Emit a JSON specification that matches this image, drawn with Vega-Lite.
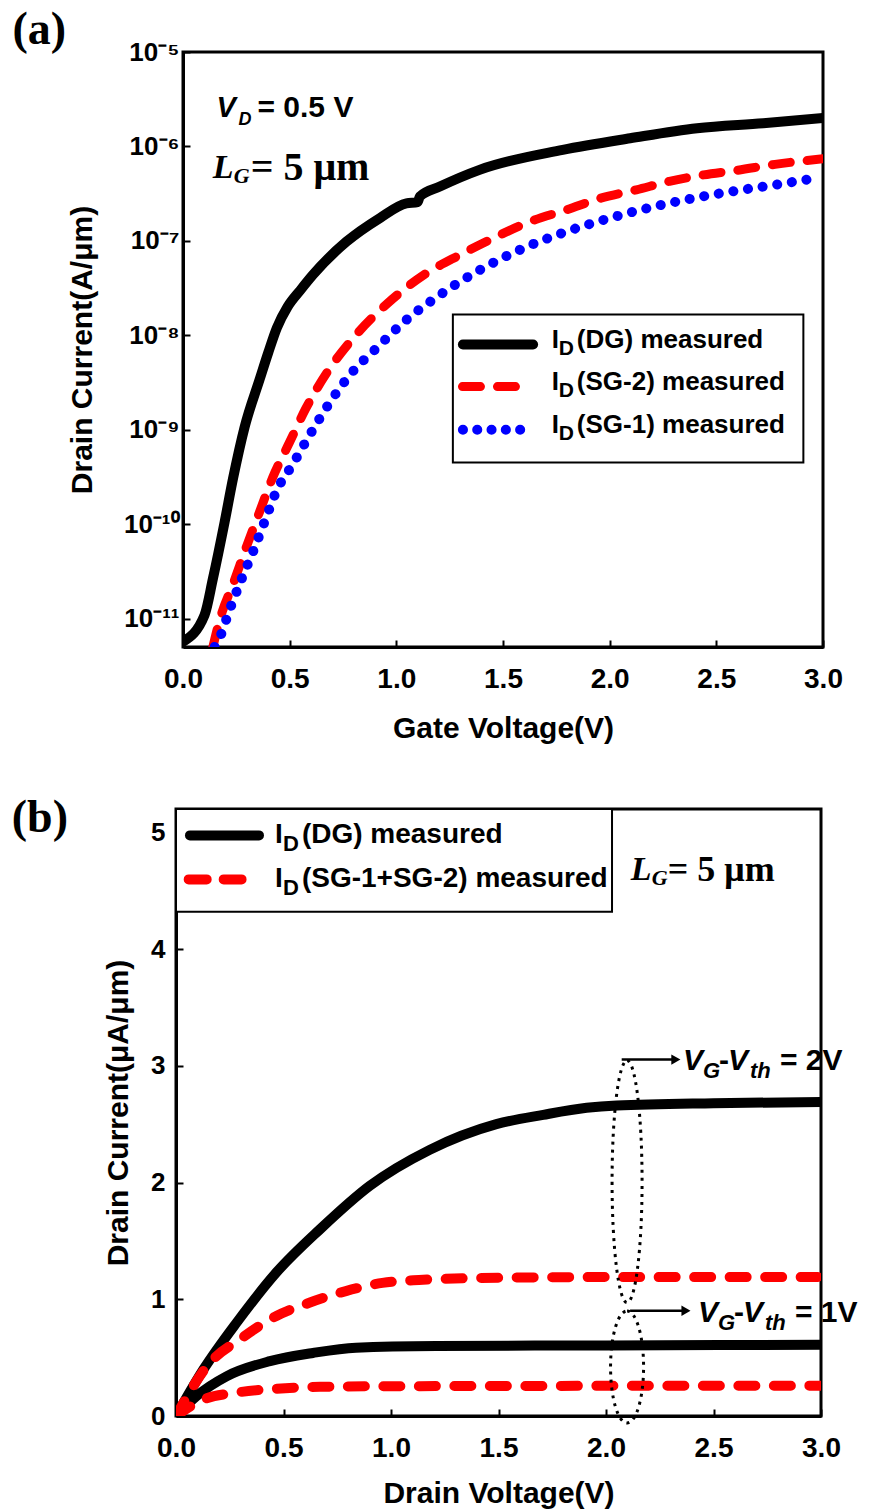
{
  "$schema": "https://vega.github.io/schema/vega-lite/v6.json",
  "background": "white",
  "padding": {"left": 3, "top": 5, "right": 0, "bottom": 0},
  "spacing": 48,
  "config": {
    "view": {"stroke": "black", "strokeWidth": 3},
    "axis": {"grid": false, "domainColor": "black", "domainWidth": 3, "tickColor": "black", "tickWidth": 2, "tickSize": -7,
      "labelFont": "Liberation Sans", "labelFontWeight": "bold", "labelColor": "black", "labelOverlap": false, "labelFlush": false,
      "titleFont": "Liberation Sans", "titleFontWeight": "bold", "titleColor": "black", "titleFontSize": 30},
    "axisX": {"labelFontSize": 28},
    "axisY": {"labelFontSize": 26}
  },
  "datasets": {
    "curvesA": [
      {"s": "DG", "x": 0, "y": 5.7e-12}, {"s": "DG", "x": 0.101, "y": 1.09e-11}, {"s": "DG", "x": 0.14, "y": 2.63e-11},
      {"s": "DG", "x": 0.195, "y": 1.05e-10}, {"s": "DG", "x": 0.234, "y": 3.0e-10}, {"s": "DG", "x": 0.289, "y": 1.07e-9},
      {"s": "DG", "x": 0.359, "y": 3.4e-9}, {"s": "DG", "x": 0.4, "y": 6.6e-9}, {"s": "DG", "x": 0.44, "y": 1.2e-8},
      {"s": "DG", "x": 0.49, "y": 2.0e-8}, {"s": "DG", "x": 0.55, "y": 3.0e-8}, {"s": "DG", "x": 0.609, "y": 4.37e-8},
      {"s": "DG", "x": 0.766, "y": 9.8e-8},
      {"s": "DG", "x": 0.922, "y": 1.74e-7}, {"s": "DG", "x": 1.047, "y": 2.5e-7}, {"s": "DG", "x": 1.1, "y": 2.57e-7},
      {"s": "DG", "x": 1.11, "y": 2.95e-7}, {"s": "DG", "x": 1.204, "y": 3.76e-7}, {"s": "DG", "x": 1.39, "y": 5.65e-7},
      {"s": "DG", "x": 1.78, "y": 9.2e-7}, {"s": "DG", "x": 2.096, "y": 1.22e-6}, {"s": "DG", "x": 2.41, "y": 1.56e-6},
      {"s": "DG", "x": 2.72, "y": 1.76e-6}, {"s": "DG", "x": 3.0, "y": 2.0e-6},
      {"s": "SG2", "x": 0.14, "y": 5e-12}, {"s": "SG2", "x": 0.171, "y": 9.5e-12}, {"s": "SG2", "x": 0.24, "y": 2.5e-11},
      {"s": "SG2", "x": 0.294, "y": 5.5e-11}, {"s": "SG2", "x": 0.359, "y": 1.35e-10}, {"s": "SG2", "x": 0.42, "y": 3.1e-10},
      {"s": "SG2", "x": 0.5, "y": 7.4e-10}, {"s": "SG2", "x": 0.577, "y": 1.7e-9}, {"s": "SG2", "x": 0.68, "y": 4.2e-9},
      {"s": "SG2", "x": 0.797, "y": 9.3e-9}, {"s": "SG2", "x": 0.96, "y": 2.19e-8}, {"s": "SG2", "x": 1.13, "y": 4.37e-8},
      {"s": "SG2", "x": 1.298, "y": 7.1e-8}, {"s": "SG2", "x": 1.47, "y": 1.11e-7}, {"s": "SG2", "x": 1.627, "y": 1.6e-7},
      {"s": "SG2", "x": 1.8, "y": 2.14e-7}, {"s": "SG2", "x": 1.955, "y": 2.82e-7}, {"s": "SG2", "x": 2.125, "y": 3.47e-7},
      {"s": "SG2", "x": 2.28, "y": 4.27e-7}, {"s": "SG2", "x": 2.44, "y": 5.0e-7}, {"s": "SG2", "x": 2.6, "y": 5.6e-7},
      {"s": "SG2", "x": 2.775, "y": 6.46e-7}, {"s": "SG2", "x": 3.0, "y": 7.4e-7},
      {"s": "SG1", "x": 0.148, "y": 5e-12}, {"s": "SG1", "x": 0.171, "y": 6.2e-12}, {"s": "SG1", "x": 0.218, "y": 1.23e-11},
      {"s": "SG1", "x": 0.273, "y": 2.57e-11}, {"s": "SG1", "x": 0.328, "y": 5.1e-11}, {"s": "SG1", "x": 0.383, "y": 1.07e-10},
      {"s": "SG1", "x": 0.438, "y": 2.24e-10}, {"s": "SG1", "x": 0.516, "y": 4.37e-10}, {"s": "SG1", "x": 0.594, "y": 8.8e-10},
      {"s": "SG1", "x": 0.68, "y": 1.82e-9}, {"s": "SG1", "x": 0.782, "y": 3.8e-9}, {"s": "SG1", "x": 0.915, "y": 7.6e-9},
      {"s": "SG1", "x": 1.046, "y": 1.45e-8}, {"s": "SG1", "x": 1.18, "y": 2.45e-8}, {"s": "SG1", "x": 1.39, "y": 4.9e-8},
      {"s": "SG1", "x": 1.593, "y": 8.3e-8}, {"s": "SG1", "x": 1.8, "y": 1.26e-7}, {"s": "SG1", "x": 2.0, "y": 1.74e-7},
      {"s": "SG1", "x": 2.203, "y": 2.29e-7}, {"s": "SG1", "x": 2.41, "y": 2.88e-7}, {"s": "SG1", "x": 2.62, "y": 3.47e-7},
      {"s": "SG1", "x": 2.82, "y": 4.07e-7}, {"s": "SG1", "x": 2.955, "y": 4.57e-7}
    ],
    "curvesB": [
      {"s": "DG2", "x": 0, "y": 0}, {"s": "DG2", "x": 0.128, "y": 0.4}, {"s": "DG2", "x": 0.282, "y": 0.8},
      {"s": "DG2", "x": 0.467, "y": 1.23}, {"s": "DG2", "x": 0.67, "y": 1.6}, {"s": "DG2", "x": 0.9, "y": 1.97},
      {"s": "DG2", "x": 1.18, "y": 2.28}, {"s": "DG2", "x": 1.49, "y": 2.5}, {"s": "DG2", "x": 1.708, "y": 2.58},
      {"s": "DG2", "x": 1.91, "y": 2.64}, {"s": "DG2", "x": 2.05, "y": 2.66}, {"s": "DG2", "x": 2.5, "y": 2.68},
      {"s": "DG2", "x": 3.0, "y": 2.69},
      {"s": "SG2", "x": 0, "y": 0}, {"s": "SG2", "x": 0.158, "y": 0.457}, {"s": "SG2", "x": 0.297, "y": 0.656},
      {"s": "SG2", "x": 0.467, "y": 0.857}, {"s": "SG2", "x": 0.62, "y": 0.97}, {"s": "SG2", "x": 0.79, "y": 1.07},
      {"s": "SG2", "x": 0.96, "y": 1.14}, {"s": "SG2", "x": 1.13, "y": 1.165}, {"s": "SG2", "x": 1.52, "y": 1.185},
      {"s": "SG2", "x": 2.0, "y": 1.19}, {"s": "SG2", "x": 3.0, "y": 1.19},
      {"s": "DG1", "x": 0, "y": 0}, {"s": "DG1", "x": 0.095, "y": 0.17}, {"s": "DG1", "x": 0.235, "y": 0.34},
      {"s": "DG1", "x": 0.437, "y": 0.47}, {"s": "DG1", "x": 0.637, "y": 0.54}, {"s": "DG1", "x": 0.837, "y": 0.585},
      {"s": "DG1", "x": 1.21, "y": 0.6}, {"s": "DG1", "x": 2.0, "y": 0.605}, {"s": "DG1", "x": 3.0, "y": 0.61},
      {"s": "SG1", "x": 0, "y": 0}, {"s": "SG1", "x": 0.127, "y": 0.14}, {"s": "SG1", "x": 0.28, "y": 0.2},
      {"s": "SG1", "x": 0.467, "y": 0.234}, {"s": "SG1", "x": 0.67, "y": 0.25}, {"s": "SG1", "x": 1.0, "y": 0.255},
      {"s": "SG1", "x": 3.0, "y": 0.26}
    ],
    "legA": [
      {"x": 1.729, "y": 7.98e-9, "m": "I", "sub": "D", "rest": "(DG) measured"},
      {"x": 1.729, "y": 2.86e-9, "m": "I", "sub": "D", "rest": "(SG-2) measured"},
      {"x": 1.729, "y": 1.0e-9, "m": "I", "sub": "D", "rest": "(SG-1) measured"}
    ],
    "legB": [
      {"x": 0.46, "y": 4.974, "m": "I", "sub": "D", "rest": "(DG) measured"},
      {"x": 0.46, "y": 4.597, "m": "I", "sub": "D", "rest": "(SG-1+SG-2) measured"}
    ],
    "vgB": [
      {"x": 2.358, "y": 3.045, "v": "V", "g": "G", "d": "-", "th": "th", "rest": "= 2V"},
      {"x": 2.428, "y": 0.88, "v": "V", "g": "G", "d": "-", "th": "th", "rest": "= 1V"}
    ]
  },
  "vconcat": [
    {"hconcat": [
    {"width": 1, "height": 1, "data": {"values": [{"k": 1}]}, "mark": {"type": "point", "opacity": 0}, "view": {"stroke": null}},
    {
      "width": 640,
      "height": 595,
      "encoding": {
        "x": {"field": "x", "type": "quantitative",
          "scale": {"domain": [0, 3], "nice": false, "zero": false},
          "axis": {"title": "Gate Voltage(V)", "values": [0, 0.5, 1, 1.5, 2, 2.5, 3], "format": ".1f", "labelPadding": 25, "titleY": 81, "titleBaseline": "middle"}},
        "y": {"field": "y", "type": "quantitative",
          "scale": {"type": "log", "domain": [5e-12, 1e-5], "nice": false},
          "axis": {"title": "Drain Current(A/μm)", "values": [1e-11, 1e-10, 1e-9, 1e-8, 1e-7, 1e-6, 1e-5], "labelPadding": 11,
            "labelExpr": "'10' + (datum.value < 3e-11 ? '⁻¹¹' : datum.value < 3e-10 ? '⁻¹⁰' : datum.value < 3e-9 ? '⁻⁹' : datum.value < 3e-8 ? '⁻⁸' : datum.value < 3e-7 ? '⁻⁷' : datum.value < 3e-6 ? '⁻⁶' : '⁻⁵')",
            "titleX": -101, "titleBaseline": "middle"}}
      },
      "layer": [
        {"data": {"name": "curvesA"}, "transform": [{"filter": "datum.s === 'DG'"}],
          "mark": {"type": "line", "color": "black", "strokeWidth": 10, "strokeCap": "round", "strokeJoin": "round", "interpolate": "monotone", "clip": true}},
        {"data": {"name": "curvesA"}, "transform": [{"filter": "datum.s === 'SG2'"}],
          "mark": {"type": "line", "color": "#ff0000", "strokeWidth": 9, "strokeDash": [18, 17], "strokeCap": "round", "interpolate": "monotone", "clip": true}},
        {"data": {"name": "curvesA"}, "transform": [{"filter": "datum.s === 'SG1'"}],
          "mark": {"type": "line", "color": "#0000ff", "strokeWidth": 10, "strokeDash": [0.1, 14.7], "strokeCap": "round", "interpolate": "monotone", "clip": true}},
        {"data": {"values": [{"x": 1.265, "x2": 2.908, "y": 1.656e-8, "y2": 4.49e-10}]},
          "mark": {"type": "rect", "fill": "white", "stroke": "black", "strokeWidth": 2},
          "encoding": {"x2": {"field": "x2"}, "y2": {"field": "y2"}}},
        {"data": {"values": [{"x": 1.312, "x2": 1.641, "y": 7.98e-9}]},
          "mark": {"type": "rule", "color": "black", "strokeWidth": 10, "strokeCap": "round"},
          "encoding": {"x2": {"field": "x2"}}},
        {"data": {"values": [{"x": 1.31, "x2": 1.568, "y": 2.86e-9}]},
          "mark": {"type": "rule", "color": "#ff0000", "strokeWidth": 9, "strokeDash": [18, 17], "strokeCap": "round"},
          "encoding": {"x2": {"field": "x2"}}},
        {"data": {"values": [{"x": 1.312, "x2": 1.586, "y": 1.0e-9}]},
          "mark": {"type": "rule", "color": "#0000ff", "strokeWidth": 10, "strokeDash": [0.1, 14.2], "strokeCap": "round"},
          "encoding": {"x2": {"field": "x2"}}},
        {"data": {"name": "legA"},
          "mark": {"type": "text", "font": "Liberation Sans", "fontWeight": "bold", "fontSize": 26, "align": "left", "baseline": "middle", "dy": -5, "color": "black"},
          "encoding": {"text": {"field": "m"}}},
        {"data": {"name": "legA"},
          "mark": {"type": "text", "font": "Liberation Sans", "fontWeight": "bold", "fontSize": 21, "align": "left", "baseline": "middle", "dx": 7, "dy": 4, "color": "black"},
          "encoding": {"text": {"field": "sub"}}},
        {"data": {"name": "legA"},
          "mark": {"type": "text", "font": "Liberation Sans", "fontWeight": "bold", "fontSize": 26, "align": "left", "baseline": "middle", "dx": 25, "dy": -5, "color": "black"},
          "encoding": {"text": {"field": "rest"}}},
        {"data": {"values": [{"x": 0.157, "y": 2.58e-6, "t": "V"}]},
          "mark": {"type": "text", "font": "Liberation Sans", "fontWeight": "bold", "fontStyle": "italic", "fontSize": 29, "align": "left", "baseline": "middle", "color": "black"},
          "encoding": {"text": {"field": "t"}}},
        {"data": {"values": [{"x": 0.157, "y": 2.58e-6, "t": "D"}]},
          "mark": {"type": "text", "font": "Liberation Sans", "fontWeight": "bold", "fontStyle": "italic", "fontSize": 18, "align": "left", "baseline": "middle", "dx": 22, "dy": 12, "color": "black"},
          "encoding": {"text": {"field": "t"}}},
        {"data": {"values": [{"x": 0.157, "y": 2.58e-6, "t": "= 0.5 V"}]},
          "mark": {"type": "text", "font": "Liberation Sans", "fontWeight": "bold", "fontSize": 30, "align": "left", "baseline": "middle", "dx": 41, "color": "black"},
          "encoding": {"text": {"field": "t"}}},
        {"data": {"values": [{"x": 0.139, "y": 5.97e-7, "t": "L"}]},
          "mark": {"type": "text", "font": "Liberation Serif", "fontWeight": "bold", "fontStyle": "italic", "fontSize": 34, "align": "left", "baseline": "middle", "color": "black"},
          "encoding": {"text": {"field": "t"}}},
        {"data": {"values": [{"x": 0.139, "y": 5.97e-7, "t": "G"}]},
          "mark": {"type": "text", "font": "Liberation Serif", "fontWeight": "bold", "fontStyle": "italic", "fontSize": 22, "align": "left", "baseline": "middle", "dx": 21, "dy": 8, "color": "black"},
          "encoding": {"text": {"field": "t"}}},
        {"data": {"values": [{"x": 0.139, "y": 5.97e-7, "t": "= 5 μm"}]},
          "mark": {"type": "text", "font": "Liberation Serif", "fontWeight": "bold", "fontSize": 40, "align": "left", "baseline": "middle", "dx": 38, "color": "black"},
          "encoding": {"text": {"field": "t"}}},
        {"data": {"values": [{"x": -0.674, "y": 1.73e-5, "t": "(a)"}]},
          "mark": {"type": "text", "font": "Liberation Serif", "fontWeight": "bold", "fontSize": 46, "align": "center", "baseline": "middle", "color": "black"},
          "encoding": {"text": {"field": "t"}}}
      ]
    }], "spacing": 0},
    {"hconcat": [
    {"width": 1, "height": 1, "data": {"values": [{"k": 1}]}, "mark": {"type": "point", "opacity": 0}, "view": {"stroke": null}},
    {
      "width": 645,
      "height": 607,
      "encoding": {
        "x": {"field": "x", "type": "quantitative",
          "scale": {"domain": [0, 3], "nice": false, "zero": false},
          "axis": {"title": "Drain Voltage(V)", "values": [0, 0.5, 1, 1.5, 2, 2.5, 3], "format": ".1f", "labelPadding": 25, "titleY": 77, "titleBaseline": "middle"}},
        "y": {"field": "y", "type": "quantitative",
          "scale": {"domain": [0, 5.2], "nice": false, "zero": false},
          "axis": {"title": "Drain Current(μA/μm)", "values": [0, 1, 2, 3, 4, 5], "format": "d", "labelPadding": 18, "titleX": -58, "titleBaseline": "middle"}}
      },
      "layer": [
        {"data": {"name": "curvesB"}, "transform": [{"filter": "datum.s === 'DG2'"}],
          "mark": {"type": "line", "color": "black", "strokeWidth": 10, "strokeCap": "round", "strokeJoin": "round", "interpolate": "monotone", "clip": true}},
        {"data": {"name": "curvesB"}, "transform": [{"filter": "datum.s === 'DG1'"}],
          "mark": {"type": "line", "color": "black", "strokeWidth": 10, "strokeCap": "round", "strokeJoin": "round", "interpolate": "monotone", "clip": true}},
        {"data": {"name": "curvesB"}, "transform": [{"filter": "datum.s === 'SG2'"}],
          "mark": {"type": "line", "color": "#ff0000", "strokeWidth": 10, "strokeDash": [17, 18.5], "strokeCap": "round", "interpolate": "monotone", "clip": true}},
        {"data": {"name": "curvesB"}, "transform": [{"filter": "datum.s === 'SG1'"}],
          "mark": {"type": "line", "color": "#ff0000", "strokeWidth": 10, "strokeDash": [17, 18.5], "strokeCap": "round", "interpolate": "monotone", "clip": true}},
        {"data": {"values": [{"x": 2.098, "y": 2.008}]},
          "mark": {"type": "point", "shape": "M0,-1 C0.0685,-1 0.124,-0.552 0.124,0 C0.124,0.552 0.0685,1 0,1 C-0.0685,1 -0.124,0.552 -0.124,0 C-0.124,-0.552 -0.0685,-1 0,-1 Z", "size": 58564, "filled": false, "stroke": "black", "strokeWidth": 3, "strokeDash": [3, 5], "opacity": 1}},
        {"data": {"values": [{"x": 2.098, "y": 0.42}]},
          "mark": {"type": "point", "shape": "M0,-1 C0.163,-1 0.295,-0.552 0.295,0 C0.295,0.552 0.163,1 0,1 C-0.163,1 -0.295,0.552 -0.295,0 C-0.295,-0.552 -0.163,-1 0,-1 Z", "size": 12544, "filled": false, "stroke": "black", "strokeWidth": 3, "strokeDash": [3, 5], "opacity": 1}},
        {"data": {"values": [{"x": 2.073, "x2": 2.32, "y": 3.053}, {"x": 2.112, "x2": 2.37, "y": 0.902}]},
          "mark": {"type": "rule", "color": "black", "strokeWidth": 2.5},
          "encoding": {"x2": {"field": "x2"}}},
        {"data": {"values": [{"x": 2.325, "y": 3.053}, {"x": 2.372, "y": 0.902}]},
          "mark": {"type": "point", "shape": "triangle-right", "size": 110, "filled": true, "color": "black", "opacity": 1}},
        {"data": {"values": [{"x": 0, "x2": 2.028, "y": 5.2, "y2": 4.32}]},
          "mark": {"type": "rect", "fill": "white", "stroke": "black", "strokeWidth": 2},
          "encoding": {"x2": {"field": "x2"}, "y2": {"field": "y2"}}},
        {"data": {"values": [{"x": 0.065, "x2": 0.386, "y": 4.974}]},
          "mark": {"type": "rule", "color": "black", "strokeWidth": 10, "strokeCap": "round"},
          "encoding": {"x2": {"field": "x2"}}},
        {"data": {"values": [{"x": 0.059, "x2": 0.305, "y": 4.597}]},
          "mark": {"type": "rule", "color": "#ff0000", "strokeWidth": 10, "strokeDash": [18, 17], "strokeCap": "round"},
          "encoding": {"x2": {"field": "x2"}}},
        {"data": {"name": "legB"},
          "mark": {"type": "text", "font": "Liberation Sans", "fontWeight": "bold", "fontSize": 28, "align": "left", "baseline": "middle", "color": "black"},
          "encoding": {"text": {"field": "m"}}},
        {"data": {"name": "legB"},
          "mark": {"type": "text", "font": "Liberation Sans", "fontWeight": "bold", "fontSize": 22, "align": "left", "baseline": "middle", "dx": 8, "dy": 9, "color": "black"},
          "encoding": {"text": {"field": "sub"}}},
        {"data": {"name": "legB"},
          "mark": {"type": "text", "font": "Liberation Sans", "fontWeight": "bold", "fontSize": 28, "align": "left", "baseline": "middle", "dx": 27, "color": "black"},
          "encoding": {"text": {"field": "rest"}}},
        {"data": {"name": "vgB"},
          "mark": {"type": "text", "font": "Liberation Sans", "fontWeight": "bold", "fontStyle": "italic", "fontSize": 30, "align": "left", "baseline": "middle", "color": "black"},
          "encoding": {"text": {"field": "v"}}},
        {"data": {"name": "vgB"},
          "mark": {"type": "text", "font": "Liberation Sans", "fontWeight": "bold", "fontStyle": "italic", "fontSize": 22, "align": "left", "baseline": "middle", "dx": 20, "dy": 10, "color": "black"},
          "encoding": {"text": {"field": "g"}}},
        {"data": {"name": "vgB"},
          "mark": {"type": "text", "font": "Liberation Sans", "fontWeight": "bold", "fontSize": 30, "align": "left", "baseline": "middle", "dx": 36, "color": "black"},
          "encoding": {"text": {"field": "d"}}},
        {"data": {"name": "vgB"},
          "mark": {"type": "text", "font": "Liberation Sans", "fontWeight": "bold", "fontStyle": "italic", "fontSize": 30, "align": "left", "baseline": "middle", "dx": 45, "color": "black"},
          "encoding": {"text": {"field": "v"}}},
        {"data": {"name": "vgB"},
          "mark": {"type": "text", "font": "Liberation Sans", "fontWeight": "bold", "fontStyle": "italic", "fontSize": 22, "align": "left", "baseline": "middle", "dx": 67, "dy": 10, "color": "black"},
          "encoding": {"text": {"field": "th"}}},
        {"data": {"name": "vgB"},
          "mark": {"type": "text", "font": "Liberation Sans", "fontWeight": "bold", "fontSize": 30, "align": "left", "baseline": "middle", "dx": 97, "color": "black"},
          "encoding": {"text": {"field": "rest"}}},
        {"data": {"values": [{"x": 2.115, "y": 4.681, "t": "L"}]},
          "mark": {"type": "text", "font": "Liberation Serif", "fontWeight": "bold", "fontStyle": "italic", "fontSize": 34, "align": "left", "baseline": "middle", "color": "black"},
          "encoding": {"text": {"field": "t"}}},
        {"data": {"values": [{"x": 2.115, "y": 4.681, "t": "G"}]},
          "mark": {"type": "text", "font": "Liberation Serif", "fontWeight": "bold", "fontStyle": "italic", "fontSize": 22, "align": "left", "baseline": "middle", "dx": 21, "dy": 8, "color": "black"},
          "encoding": {"text": {"field": "t"}}},
        {"data": {"values": [{"x": 2.115, "y": 4.681, "t": "= 5 μm"}]},
          "mark": {"type": "text", "font": "Liberation Serif", "fontWeight": "bold", "fontSize": 36, "align": "left", "baseline": "middle", "dx": 37, "color": "black"},
          "encoding": {"text": {"field": "t"}}},
        {"data": {"values": [{"x": -0.633, "y": 5.127, "t": "(b)"}]},
          "mark": {"type": "text", "font": "Liberation Serif", "fontWeight": "bold", "fontSize": 46, "align": "center", "baseline": "middle", "color": "black"},
          "encoding": {"text": {"field": "t"}}}
      ]
    }], "spacing": 0}
  ]
}
